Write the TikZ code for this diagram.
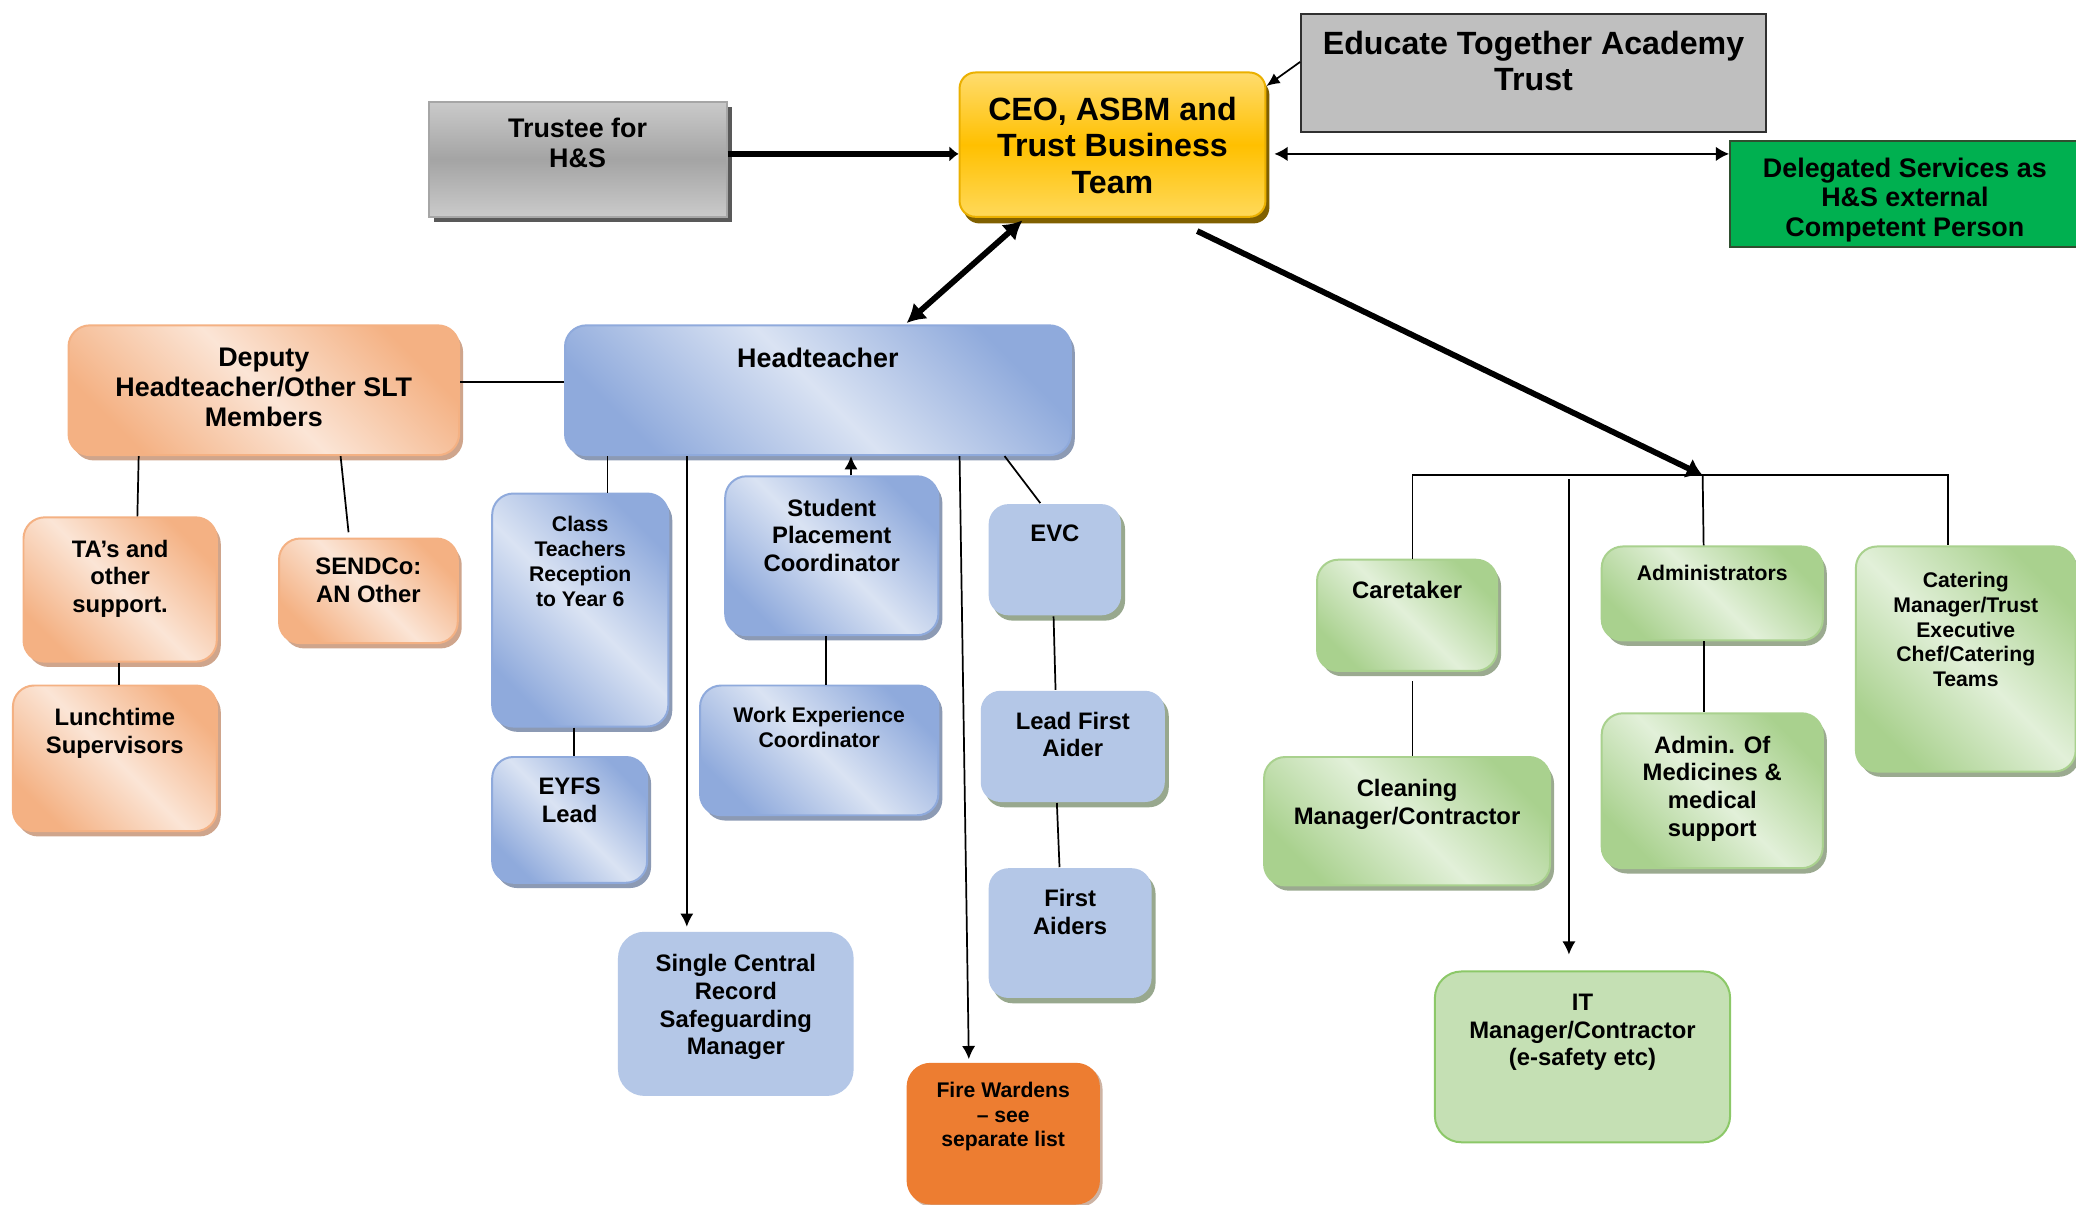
\documentclass[tikz,border=0pt]{standalone}
\usepackage{fontspec}
\setmainfont{Liberation Sans}
\usetikzlibrary{positioning, arrows.meta, shadows}

\definecolor{orangedark}{HTML}{F4B183}
\definecolor{orangelight}{HTML}{FBE5D6}
\definecolor{orangeshadow}{HTML}{CFA58C}
\definecolor{bluedark}{HTML}{8FAADC}
\definecolor{bluelight}{HTML}{DAE3F3}
\definecolor{blueshadow}{HTML}{8C9AB4}
\definecolor{greendark}{HTML}{A9D18E}
\definecolor{greenlight}{HTML}{E2F0D9}
\definecolor{greenshadow}{HTML}{9BAA90}
\definecolor{paleblue}{HTML}{B4C7E7}
\definecolor{palegreen}{HTML}{C5E0B4}
\definecolor{itedge}{HTML}{8CC868}
\definecolor{sageshadow}{HTML}{98A88E}
\definecolor{fireorange}{HTML}{ED7D31}
\definecolor{fireshadow}{HTML}{CDB3A3}
\definecolor{ceotop}{HTML}{FFDC6E}
\definecolor{ceomid}{HTML}{FFC000}
\definecolor{ceobottom}{HTML}{FFD95A}
\definecolor{ceoedge}{HTML}{EBB000}
\definecolor{ceoshadow}{HTML}{806000}
\definecolor{graylight}{HTML}{CACACA}
\definecolor{graymid}{HTML}{A4A4A4}
\definecolor{grayedge}{HTML}{A6A6A6}
\definecolor{grayshadow}{HTML}{595959}
\definecolor{trustgray}{HTML}{BFBFBF}
\definecolor{trustedge}{HTML}{303030}
\definecolor{servicegreen}{HTML}{00B050}
\definecolor{serviceedge}{HTML}{2F4F2F}

\tikzset{
    every node/.style={align=center},
    size/.style 2 args={minimum width=#1pt, minimum height=#2pt},
    title/.style 2 args={        % text at the top of a box
        label={[inner sep=0pt, anchor=north, yshift=-#1pt, font=\bfseries\fontsize{18}{21}\selectfont]north:{#2}}
    },
    btitle/.style 2 args={       % bigger text
        label={[inner sep=0pt, anchor=north, yshift=-#1pt, font=\bfseries\fontsize{20.3}{22.4}\selectfont]north:{#2}}
    },
    stitle/.style 2 args={       % smaller text
        label={[inner sep=0pt, anchor=north, yshift=-#1pt, font=\bfseries\fontsize{16}{18.7}\selectfont]north:{#2}}
    },
    ltitle/.style 2 args={       % largest text
        label={[inner sep=0pt, anchor=north, yshift=-#1pt, font=\bfseries\fontsize{24.3}{27.5}\selectfont]north:{#2}}
    },
    box/.style={anchor=north west, inner sep=0pt, line width=1.5pt},
    orangebox/.style={box, rounded corners=16pt, draw=orangedark,
        left color=orangedark, right color=orangedark, middle color=orangelight, shading angle=135,
        drop shadow={shadow xshift=3pt, shadow yshift=-4pt, fill=orangeshadow, opacity=1}},
    bluebox/.style={box, rounded corners=16pt, draw=bluedark,
        left color=bluedark, right color=bluedark, middle color=bluelight, shading angle=135,
        drop shadow={shadow xshift=3pt, shadow yshift=-4pt, fill=blueshadow, opacity=1}},
    greenbox/.style={box, rounded corners=16pt, draw=greendark,
        left color=greendark, right color=greendark, middle color=greenlight, shading angle=135,
        drop shadow={shadow xshift=3pt, shadow yshift=-4pt, fill=greenshadow, opacity=1}},
    flatbox/.style={box, rounded corners=15pt, fill=paleblue,
        drop shadow={shadow xshift=3pt, shadow yshift=-4pt, fill=sageshadow, opacity=1}},
    recordbox/.style={box, rounded corners=20pt, fill=paleblue},
    itbox/.style={box, rounded corners=20pt, fill=palegreen, draw=itedge},
    firebox/.style={box, rounded corners=18pt, fill=fireorange,
        drop shadow={shadow xshift=2pt, shadow yshift=-2pt, fill=fireshadow, opacity=1}},
    graybox/.style={box, draw=grayedge, top color=graylight, bottom color=graylight, middle color=graymid,
        drop shadow={shadow xshift=4pt, shadow yshift=-4pt, fill=grayshadow, opacity=1}},
    ceobox/.style={box, rounded corners=12pt, draw=ceoedge, top color=ceotop, bottom color=ceobottom, middle color=ceomid,
        drop shadow={shadow xshift=3pt, shadow yshift=-5pt, fill=ceoshadow, opacity=1}},
    trustbox/.style={box, draw=trustedge, fill=trustgray},
    servicebox/.style={box, draw=serviceedge, fill=servicegreen},
    link/.style={line width=1.3pt},
    arrow/.style={link, -{Latex[length=10pt, width=10pt]}},
    bigline/.style={line width=4.4pt}
}

\begin{document}
\begin{tikzpicture}[x=1pt, y=-1pt]
    \path[use as bounding box, fill=white] (0,0) rectangle (1568,910);

    % trust level
    \node[graybox, size={225}{87}, btitle={13}{Trustee for\\H\&S}] (trustee) at (323,76) {};
    \node[ceobox, size={231}{109}, ltitle={19}{CEO, ASBM and\\Trust Business\\Team}] (ceo) at (724,54) {};
    \node[trustbox, size={351}{89}, ltitle={13}{Educate Together Academy\\Trust}] (educate) at (982,10) {};
    \node[servicebox, size={264}{80}, btitle={13}{Delegated Services as\\H\&S external\\Competent Person}] (delegated) at (1306,106) {};

    % school leadership
    \node[bluebox, size={382}{98}, btitle={18}{Headteacher}] (head) at (426,245) {};
    \node[orangebox, size={295}{98}, btitle={18}{Deputy\\Headteacher/Other SLT\\Members}] (deputy) at (51,245) {};
    \node[orangebox, size={146}{109}, title={17.5}{TA’s and\\other\\support.}] (ta) at (17,390) {};
    \node[orangebox, size={135}{79}, title={15.5}{SENDCo:\\AN Other}] (sendco) at (210,406) {};
    \node[orangebox, size={154}{110}, title={17.5}{Lunchtime\\Supervisors}] (lunch) at (9,517) {};

    % headteacher's team
    \node[bluebox, size={133}{176}, stitle={18}{Class\\Teachers\\Reception\\to Year 6}] (class) at (371,372) {};
    \node[bluebox, size={117}{95}, title={16.5}{EYFS\\Lead}] (eyfs) at (371,571) {};
    \node[bluebox, size={161}{120}, title={17.5}{Student\\Placement\\Coordinator}] (placement) at (547,359) {};
    \node[bluebox, size={180}{98}, stitle={17}{Work Experience\\Coordinator}] (workexp) at (528,517) {};
    \node[flatbox, size={100}{84}, title={16.5}{EVC}] (evc) at (746,380) {};
    \node[flatbox, size={139}{84}, title={16.5}{Lead First\\Aider}] (leadaider) at (740,521) {};
    \node[flatbox, size={123}{98}, title={16.5}{First\\Aiders}] (aiders) at (746,655) {};
    \node[recordbox, size={178}{124}, title={17.5}{Single Central\\Record\\Safeguarding\\Manager}] (record) at (466,703) {};
    \node[firebox, size={146}{107}, stitle={15}{Fire Wardens\\\textendash{} see\\separate list}] (fire) at (684,802) {};

    % trust services
    \node[greenbox, size={136}{84}, title={16.5}{Caretaker}] (caretaker) at (994,422) {};
    \node[greenbox, size={216}{97}, title={17.5}{Cleaning\\Manager/Contractor}] (cleaning) at (954,571) {};
    \node[greenbox, size={167}{71}, stitle={15}{Administrators}] (admin) at (1209,412) {};
    \node[greenbox, size={167}{117}, title={17.5}{Admin. Of\\Medicines \&\\medical\\support}] (medicines) at (1209,538) {};
    \node[greenbox, size={166}{170}, stitle={20}{Catering\\Manager/Trust\\Executive\\Chef/Catering\\Teams}] (catering) at (1401,412) {};
    \node[itbox, size={223}{129}, title={17.5}{IT\\Manager/Contractor\\(e-safety etc)}] (it) at (1083,733) {};
    \coordinate (bus) at (1286,359);

    % connectors at the top
    \draw[bigline, -{Latex[length=7pt, width=12pt]}] ([yshift=4pt]trustee.east) -- ([yshift=4pt]trustee.east -| ceo.west);
    \draw[link, -{Latex[length=10pt, width=9pt]}] ([yshift=8.5pt]educate.west) -- ([yshift=-11pt]ceo.north east);
    \draw[line width=1.6pt, {Latex[length=10pt, width=11pt]}-{Latex[length=10pt, width=11pt]}] ([xshift=6pt, yshift=-7pt]ceo.east) -- ([yshift=-7pt]ceo.east -| delegated.west);
    \draw[bigline, {Latex[length=14pt, width=16pt]}-{Latex[length=14pt, width=16pt]}] ([xshift=-68pt, yshift=-2pt]ceo.south) -- ([xshift=67pt, yshift=1pt]head.north);
    \draw[bigline, -{Latex[length=12pt, width=16pt]}] ([xshift=64pt, yshift=-10pt]ceo.south) -- (bus);

    % trust services
    \draw[link] ([xshift=4pt]caretaker.north) |- (bus) -| ([xshift=-13.5pt]catering.north);
    \draw[link] (bus) -- ([xshift=-6.5pt]admin.north);
    \draw[arrow, shorten >=12pt] ([xshift=-101pt, yshift=-3pt]bus) -- ([xshift=-101pt]bus |- it.north);
    \draw[link] ([xshift=4pt, yshift=-7pt]caretaker.south) -- ([xshift=4pt]caretaker.south |- cleaning.north);
    \draw[link] ([xshift=-6.5pt]admin.south) -- ([xshift=-6.5pt]admin.south |- medicines.north);

    % school
    \draw[link] ([yshift=6pt]deputy.east) -- ([yshift=6pt]deputy.east -| head.west);
    \draw[link] ([xshift=14pt]ta.north |- deputy.south) -- ([xshift=13pt]ta.north);
    \draw[link] ([xshift=-21pt]sendco.north |- deputy.south) -- ([xshift=-15pt, yshift=4pt]sendco.north);
    \draw[link] ([xshift=-1pt]ta.south) -- ([xshift=-1pt]ta.south |- lunch.north);
    \draw[link] ([xshift=20.5pt]class.north |- head.south) -- ([xshift=20.5pt]class.north);
    \draw[link] ([xshift=3.5pt]eyfs.north |- class.south) -- ([xshift=3.5pt]eyfs.north);
    \draw[arrow] ([xshift=-37pt]record.north |- head.south) -- ([xshift=-37pt, yshift=3pt]record.north);
    \draw[arrow] ([xshift=14.5pt]placement.north) -- ([xshift=14.5pt]placement.north |- head.south);
    \draw[link] ([xshift=5pt]workexp.north |- placement.south) -- ([xshift=5pt]workexp.north);
    \draw[arrow] ([xshift=107pt]head.south) -- ([xshift=-26pt, yshift=2pt]fire.north);
    \draw[link] ([xshift=141pt]head.south) -- ([xshift=-11pt]evc.north);
    \draw[link] ([xshift=-1pt]evc.south) -- ([xshift=-13pt]leadaider.north);
    \draw[link] ([xshift=-12pt]leadaider.south) -- ([xshift=-8pt]aiders.north);
\end{tikzpicture}
\end{document}
